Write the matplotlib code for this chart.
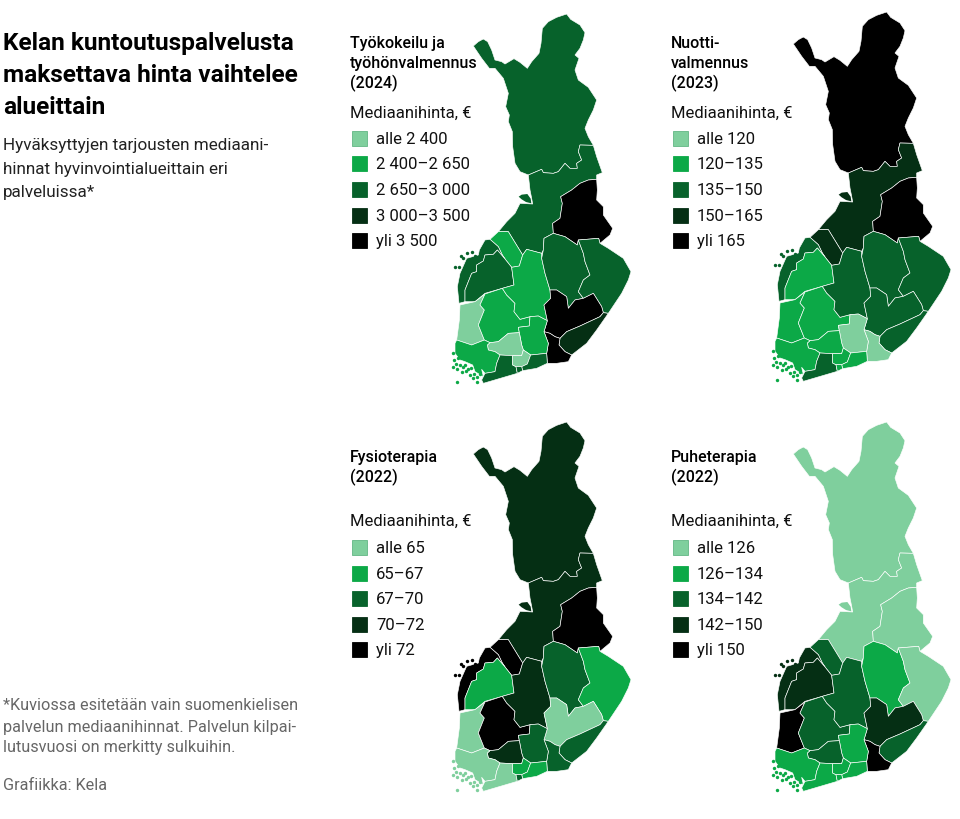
import matplotlib
matplotlib.use('Agg')
import matplotlib.pyplot as plt
from matplotlib.patches import Polygon, Rectangle

plt.rcParams['font.family'] = ['Roboto', 'DejaVu Sans']

# class of each wellbeing county per panel, 0 = lightest, 4 = black
region_names = ['LAP', 'PP', 'KAI', 'KP', 'POH', 'EP', 'SAT', 'PIR', 'KS', 'PS', 'PK',
                'ES', 'EK', 'KYM', 'PH', 'KH', 'VS', 'LU', 'KU', 'IU', 'HEL']
tyokokeilu = [2, 2, 4, 1, 2, 2, 0, 1, 1, 2, 2, 4, 3, 4, 1, 0, 1, 2, 0, 2, 2]
nuotti =     [4, 3, 4, 3, 2, 1, 1, 1, 2, 2, 2, 2, 2, 0, 0, 1, 1, 2, 1, 1, 1]
fysio =      [3, 3, 4, 4, 4, 1, 0, 4, 3, 2, 1, 0, 2, 2, 2, 3, 0, 0, 1, 1, 2]
puhe =       [0, 0, 0, 2, 3, 3, 4, 2, 2, 1, 0, 3, 2, 4, 1, 2, 1, 1, 1, 1, 1]

titles = [['Työkokeilu ja', 'työhönvalmennus', '(2024)'],
          ['Nuotti-', 'valmennus', '(2023)'],
          ['Fysioterapia', '(2022)'],
          ['Puheterapia', '(2022)']]
legend_labels = [['alle 2 400', '2 400–2 650', '2 650–3 000', '3 000–3 500', 'yli 3 500'],
                 ['alle 120', '120–135', '135–150', '150–165', 'yli 165'],
                 ['alle 65', '65–67', '67–70', '70–72', 'yli 72'],
                 ['alle 126', '126–134', '134–142', '142–150', 'yli 150']]
colors = ['#7fcf9d', '#0ca947', '#07622b', '#052f14', '#000000']

outlines = {
    'LAP': [(100,138),(115,125),(130,117),(143,125),(155,150),(165,180),(185,185),(195,192),(222,176),(240,187),
            (262,205),(275,185),(297,160),(303,130),(307,85),(325,65),(350,52),(380,42),(392,58),(420,75),(435,98),
            (430,120),(420,145),(405,165),(417,175),(405,210),(415,240),(445,262),(470,300),(460,330),(445,360),
            (435,385),(445,410),(460,436),(420,435),(415,455),(425,480),(410,490),(412,505),(390,505),(375,490),
            (355,515),(340,520),(310,518),(305,508),(265,525),(240,515),(225,490),(218,440),(217,395),(205,365),
            (208,345),(197,320),(205,280),(195,250),(190,235),(165,205),(148,205),(125,175)],
    'PP': [(460,436),(470,470),(487,518),(470,525),(470,538),(445,540),(420,550),(395,570),(362,590),(367,610),
           (360,655),(338,670),(340,700),(312,715),(310,750),(305,760),(260,748),(248,765),(205,695),(175,695),
           (200,665),(225,640),(240,610),(278,612),(275,595),(270,570),(265,525),(305,508),(310,518),(340,520),
           (355,515),(375,490),(390,505),(412,505),(410,490),(425,480),(415,455),(420,435)],
    'KAI': [(470,538),(472,570),(470,600),(490,620),(490,645),(518,685),(510,705),(480,730),(476,715),(415,720),
            (412,735),(375,710),(340,700),(338,670),(360,655),(367,610),(362,590),(395,570),(420,550),(445,540)],
    'KP': [(150,718),(175,695),(205,695),(248,765),(238,798),(215,802),(195,777),(187,765),(175,740)],
    'POH': [(150,718),(175,740),(187,765),(195,777),(172,750),(160,763),(135,765),(130,783),(110,795),(110,815),
            (95,820),(75,870),(75,905),(57,910),(52,860),(60,820),(80,775),(115,765),(118,750),(135,720)],
    'EP': [(75,905),(75,870),(95,820),(110,815),(110,795),(130,783),(135,765),(160,763),(172,750),(195,777),
           (215,802),(222,855),(187,865),(135,880),(105,905)],
    'SAT': [(60,915),(105,905),(135,882),(120,915),(133,930),(115,975),(133,1020),(95,1035),(50,1020),(58,960)],
    'PIR': [(135,882),(187,865),(200,885),(225,910),(222,935),(240,958),(270,950),(268,978),(235,982),(238,998),
            (205,1000),(175,1025),(150,1028),(133,1020),(115,975),(133,930),(120,915)],
    'KS': [(260,748),(305,760),(305,775),(315,820),(330,870),(332,895),(312,915),(322,962),(295,948),(270,950),
           (240,958),(222,935),(225,910),(200,885),(187,865),(222,855),(215,802),(238,798),(248,765)],
    'PS': [(340,700),(375,710),(412,735),(415,720),(430,760),(435,785),(450,825),(430,840),(415,875),(430,895),
           (405,900),(385,925),(380,890),(350,870),(330,870),(315,820),(305,775),(310,750),(312,715)],
    'PK': [(415,720),(476,715),(480,730),(505,745),(550,775),(573,815),(565,840),(545,880),(505,940),(490,938),
           (485,920),(460,880),(430,895),(415,875),(430,840),(450,825),(435,785),(430,760)],
    'ES': [(330,870),(350,870),(380,890),(385,925),(405,900),(430,895),(460,880),(485,920),(490,938),(480,950),
           (420,978),(380,995),(360,1015),(345,1010),(330,1000),(312,995),(322,962),(312,915),(332,895)],
    'EK': [(505,940),(470,990),(440,1030),(395,1065),(375,1055),(357,1035),(360,1015),(380,995),(420,978),(480,950),(490,938)],
    'KYM': [(312,995),(330,1000),(345,1010),(360,1015),(357,1035),(375,1055),(395,1065),(385,1085),(350,1090),(322,1090),
            (320,1060),(325,1030)],
    'PH': [(235,982),(268,978),(270,950),(295,948),(322,962),(312,995),(325,1030),(320,1060),(272,1065),(262,1058),
           (250,1050),(245,1035),(238,998)],
    'KH': [(150,1028),(175,1025),(205,1000),(238,998),(245,1035),(250,1050),(245,1067),(218,1067),(180,1065),(165,1055),
           (145,1050),(142,1035)],
    'VS': [(50,1020),(95,1035),(133,1020),(150,1028),(142,1035),(145,1050),(165,1055),(180,1065),(170,1090),(165,1115),
           (135,1120),(125,1108),(130,1130),(105,1115),(98,1095),(75,1085),(60,1080),(45,1060),(45,1030)],
    'LU': [(180,1065),(218,1067),(218,1095),(228,1100),(232,1120),(215,1125),(130,1150),(125,1140),(135,1120),(165,1115),(170,1090)],
    'KU': [(218,1067),(245,1067),(250,1050),(262,1058),(272,1065),(262,1092),(245,1100),(228,1100),(218,1095)],
    'IU': [(272,1065),(320,1060),(322,1090),(290,1105),(248,1112),(245,1100),(262,1092)],
    'HEL': [(228,1100),(245,1100),(248,1112),(232,1120)],
}
hailuoto = [(236,590),(245,584),(262,582),(272,596),(274,610),(258,606),(245,598)]
# islands, (x, y, region)
islands = [(62,768,'POH'),(70,775,'POH'),(80,760,'POH'),(95,755,'POH'),(105,768,'POH'),(58,800,'POH'),(45,802,'POH'),
           (40,1060,'VS'),(42,1080,'VS'),(48,1092,'VS'),(38,1100,'VS'),(55,1075,'VS'),(60,1095,'VS'),(52,1108,'VS'),
           (70,1100,'VS'),(78,1112,'VS'),(65,1115,'VS'),(90,1125,'VS'),(100,1135,'VS'),(85,1108,'VS'),(112,1145,'VS'),
           (50,1147,'VS'),(75,1095,'VS'),(92,1105,'VS'),(102,1122,'VS'),(112,1130,'VS'),(120,1122,'VS')]

panel_offsets = [(0, 0), (320, -2), (0, 408), (320, 408)]
panel_values = [tyokokeilu, nuotti, fysio, puhe]

fig = plt.figure(figsize=(9.6, 8.19), dpi=100)
ax = fig.add_axes([0, 0, 1, 1])
ax.set_xlim(0, 960)
ax.set_ylim(819, 0)
ax.axis('off')


def to_px(pts, off):
    return [(440 + p[0] / 3 + off[0], p[1] / 3 + off[1]) for p in pts]


for values, off in zip(panel_values, panel_offsets):
    cls = dict(zip(region_names, values))
    for name in region_names:
        ax.add_patch(Polygon(to_px(outlines[name], off), closed=True, facecolor=colors[cls[name]],
                             edgecolor='white', linewidth=0.45, joinstyle='round'))
    ax.add_patch(Polygon(to_px(hailuoto, off), closed=True, facecolor=colors[cls['PP']], edgecolor='none'))
    for x, y, name in islands:
        px = to_px([(x, y)], off)[0]
        ax.scatter(px[0], px[1], s=6, color=colors[cls[name]], linewidths=0, zorder=2)

# left column
for y, line in zip([50, 82, 114], ['Kelan kuntoutuspalvelusta', 'maksettava hinta vaihtelee', 'alueittain']):
    ax.text(3, y, line, fontsize=17.6, fontweight='bold', va='baseline', ha='left', color='black')
for y, line in zip([150, 174, 197], ['Hyväksyttyjen tarjousten mediaani-', 'hinnat hyvinvointialueittain eri', 'palveluissa*']):
    ax.text(3, y, line, fontsize=12.3, va='baseline', ha='left', color='#222222')
for y, line in zip([710, 732, 752, 790], ['*Kuviossa esitetään vain suomenkielisen', 'palvelun mediaanihinnat. Palvelun kilpai-',
                                          'lutusvuosi on merkitty sulkuihin.', 'Grafiikka: Kela']):
    ax.text(3, y, line, fontsize=11.7, va='baseline', ha='left', color='#666666')

# panel titles and legends
title_y = [48, 48, 462, 462]
lab_y = [118, 118, 526, 526]
row_y = [[144, 169, 195, 221, 246], [144, 169, 195, 221, 246], [553, 579, 604, 630, 655], [553, 579, 604, 630, 655]]
left_x = [350, 671, 350, 671]
for i in range(4):
    for j, line in enumerate(titles[i]):
        ax.text(left_x[i], title_y[i] + j * 20.3, line, fontsize=11.5, fontweight='medium', va='baseline', ha='left', color='black')
    ax.text(left_x[i], lab_y[i], 'Mediaanihinta, €', fontsize=12, va='baseline', ha='left', color='#111111')
    for k, y in enumerate(row_y[i]):
        edge = '#62b785' if k == 0 else colors[k]
        ax.add_patch(Rectangle((left_x[i] + 1.5, y - 13), 15, 15, facecolor=colors[k], edgecolor=edge, linewidth=0.6))
        ax.text(left_x[i] + 26, y, legend_labels[i][k], fontsize=12, va='baseline', ha='left', color='#111111')

fig.savefig('out.png', dpi=100)
